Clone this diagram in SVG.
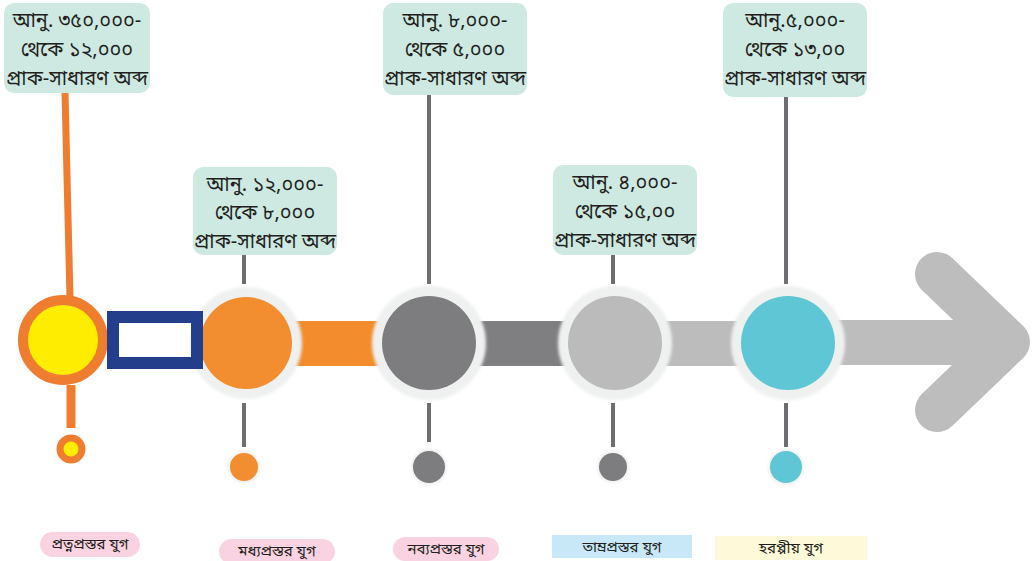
<svg xmlns="http://www.w3.org/2000/svg" width="1036" height="561" viewBox="0 0 1036 561">
<defs>
<style>
.callout{fill:#cde9e2}
.ct{font-family:"Noto Sans Bengali","Noto Serif Bengali","Lohit Bengali","Noto Sans",sans-serif;font-size:20px;fill:#231f20;text-anchor:middle}
.lt{font-family:"Noto Sans Bengali","Noto Serif Bengali","Lohit Bengali","Noto Sans",sans-serif;font-size:15px;fill:#231f20;text-anchor:middle}
.stem{stroke:#6d6e71;stroke-width:4;fill:none}
.halo{fill:#eff0f0;filter:url(#soft)}
.pink{fill:#f9d3e2}
</style>
<filter id="soft" x="-20%" y="-20%" width="140%" height="140%"><feGaussianBlur stdDeviation="1.5"/></filter>
</defs>
<rect width="1036" height="561" fill="#ffffff"/>

<g id="connectors">
<rect x="290" y="321" width="100" height="45" fill="#f28c2c"/>
<rect x="470" y="321" width="100" height="45" fill="#7f7f81"/>
<rect x="655" y="321" width="95" height="45" fill="#bcbcbc"/>
<rect x="830" y="320" width="180" height="45" fill="#bdbdbd"/>
<polyline points="937,274 1008,342 937,410" fill="none" stroke="#bdbdbd" stroke-width="44" stroke-linecap="round" stroke-linejoin="round"/>
<line x1="65" y1="93" x2="70" y2="298" stroke="#ee7d30" stroke-width="7"/>
<line x1="71" y1="385" x2="71" y2="428" stroke="#ee7d30" stroke-width="9"/>
<line x1="244" y1="255" x2="244" y2="284" class="stem"/>
<line x1="244" y1="403" x2="244" y2="447" class="stem"/>
<line x1="429" y1="95" x2="429" y2="284" class="stem"/>
<line x1="429" y1="403" x2="429" y2="442" class="stem"/>
<line x1="613" y1="255" x2="613" y2="284" class="stem"/>
<line x1="613" y1="403" x2="613" y2="447" class="stem"/>
<line x1="786" y1="97" x2="786" y2="284" class="stem"/>
<line x1="786" y1="403" x2="786" y2="447" class="stem"/>
</g>

<g id="node2">
<rect x="193" y="167" width="144" height="88" rx="10" class="callout"/>
<text class="ct" x="265" y="191">আনু. ১২,০০০-</text>
<text class="ct" x="265" y="219">থেকে ৮,০০০</text>
<text class="ct" x="265" y="248">প্রাক-সাধারণ অব্দ</text>
<circle cx="246" cy="343" r="56" class="halo"/>
<circle cx="246" cy="343" r="46" fill="#f28e2f"/>
<circle cx="244" cy="467" r="16" class="halo"/>
<circle cx="244" cy="467" r="14" fill="#f28e2f"/>
<rect x="219" y="539" width="116" height="25" rx="12.5" class="pink"/>
<text class="lt" x="277" y="556">মধ্যপ্রস্তর যুগ</text>
</g>

<g id="node1">
<rect x="4" y="3" width="146" height="90" rx="10" class="callout"/>
<text class="ct" x="77" y="27">আনু. ৩৫০,০০০-</text>
<text class="ct" x="77" y="56">থেকে ১২,০০০</text>
<text class="ct" x="77" y="85">প্রাক-সাধারণ অব্দ</text>
<circle cx="63" cy="340" r="40" fill="#ffed00" stroke="#ee7d30" stroke-width="10"/>
<circle cx="71" cy="449" r="11" fill="#ffed00" stroke="#ee7d30" stroke-width="7"/>
<rect x="113" y="317" width="84" height="46" fill="none" stroke="#233e8b" stroke-width="12"/>
<rect x="40" y="532" width="100" height="25" rx="12.5" class="pink"/>
<text class="lt" x="90" y="549">প্রত্নপ্রস্তর যুগ</text>
</g>

<g id="node3">
<rect x="383" y="3" width="144" height="92" rx="10" class="callout"/>
<text class="ct" x="455" y="27">আনু. ৮,০০০-</text>
<text class="ct" x="455" y="56">থেকে ৫,০০০</text>
<text class="ct" x="455" y="85">প্রাক-সাধারণ অব্দ</text>
<circle cx="429" cy="343" r="57" class="halo"/>
<circle cx="429" cy="343" r="47" fill="#7d7d7f"/>
<circle cx="429" cy="467" r="18" class="halo"/>
<circle cx="429" cy="467" r="16" fill="#7d7d7f"/>
<rect x="393" y="537" width="106" height="24" rx="12" class="pink"/>
<text class="lt" x="446" y="554">নব্যপ্রস্তর যুগ</text>
</g>

<g id="node4">
<rect x="553" y="165" width="144" height="90" rx="10" class="callout"/>
<text class="ct" x="625" y="189">আনু. ৪,০০০-</text>
<text class="ct" x="625" y="218">থেকে ১৫,০০</text>
<text class="ct" x="625" y="247">প্রাক-সাধারণ অব্দ</text>
<circle cx="615" cy="343" r="57" class="halo"/>
<circle cx="615" cy="343" r="47" fill="#bcbbbb"/>
<circle cx="613" cy="467" r="16" class="halo"/>
<circle cx="613" cy="467" r="14" fill="#7d7d7f"/>
<rect x="552" y="535" width="140" height="23" fill="#c8e8f8"/>
<text class="lt" x="622" y="552">তাম্রপ্রস্তর যুগ</text>
</g>

<g id="node5">
<rect x="723" y="3" width="144" height="94" rx="10" class="callout"/>
<text class="ct" x="795" y="27">আনু.৫,০০০-</text>
<text class="ct" x="795" y="56">থেকে ১৩,০০</text>
<text class="ct" x="795" y="85">প্রাক-সাধারণ অব্দ</text>
<circle cx="788" cy="343" r="57" class="halo"/>
<circle cx="788" cy="343" r="47" fill="#5ec6d4"/>
<circle cx="786" cy="467" r="18" class="halo"/>
<circle cx="786" cy="467" r="16" fill="#5ec6d4"/>
<rect x="715" y="536" width="152" height="24" fill="#fef9d8"/>
<text class="lt" x="791" y="553">হরপ্পীয় যুগ</text>
</g>
</svg>
